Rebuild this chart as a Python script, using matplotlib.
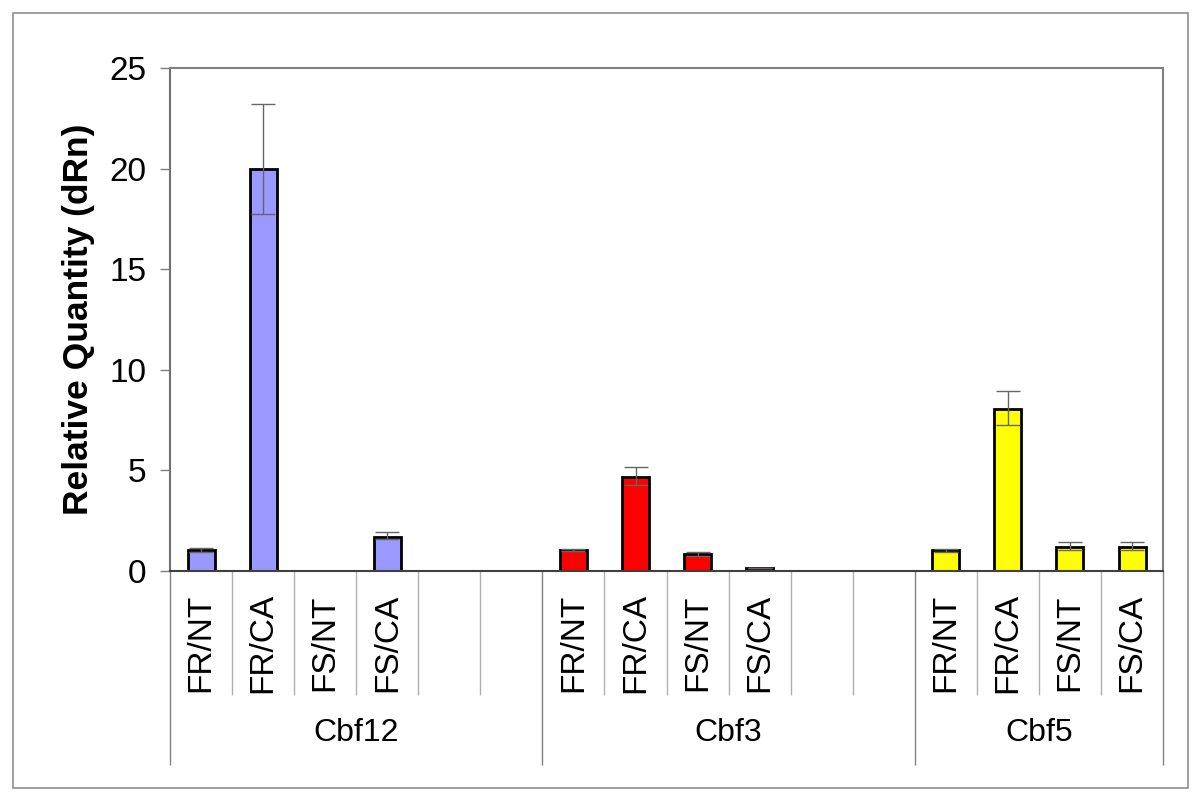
import numpy as np
import matplotlib.pyplot as plt
from matplotlib.patches import Rectangle

plt.rcParams['font.family'] = ['Liberation Sans', 'DejaVu Sans']

# Dados
genes = ['Cbf12', 'Cbf3', 'Cbf5']
tratamentos = ['FR/NT', 'FR/CA', 'FS/NT', 'FS/CA']
slots_por_gene = [6, 6, 4]
cores = ['#9999FF', '#FF0000', '#FFFF00']

valores_cbf12 = [1.05, 20.0, np.nan, 1.70]
valores_cbf3 = [1.05, 4.68, 0.83, 0.15]
valores_cbf5 = [1.05, 8.05, 1.20, 1.20]

erro_sup_cbf12 = [0.11, 3.2, np.nan, 0.25]
erro_sup_cbf3 = [0.04, 0.50, 0.10, 0.02]
erro_sup_cbf5 = [0.05, 0.90, 0.23, 0.23]

erro_inf_cbf12 = [0.10, 2.25, np.nan, 0.13]
erro_inf_cbf3 = [0.04, 0.40, 0.08, 0.02]
erro_inf_cbf5 = [0.12, 0.78, 0.16, 0.16]

valores = [valores_cbf12, valores_cbf3, valores_cbf5]
erros_sup = [erro_sup_cbf12, erro_sup_cbf3, erro_sup_cbf5]
erros_inf = [erro_inf_cbf12, erro_inf_cbf3, erro_inf_cbf5]

fig = plt.figure(figsize=(12, 8), dpi=100)
ax = fig.add_axes([0.1417, 0.28625, 0.8275, 0.62875])

# Moldura externa
fig.patches.append(Rectangle((13 / 1200, 12 / 800), 1175 / 1200, 775 / 800,
                             transform=fig.transFigure, fill=False,
                             edgecolor='#909090', lw=1.2))

inicio = 0
limites = [0]
for gene, n, cor, vals, es, ei in zip(genes, slots_por_gene, cores, valores, erros_sup, erros_inf):
    x = inicio + np.arange(len(tratamentos)) + 0.5
    ax.bar(x, vals, width=0.435, color=cor, edgecolor='black', linewidth=2.0, zorder=2)
    ax.errorbar(x, vals, yerr=[ei, es], fmt='none', ecolor='#666666',
                elinewidth=1.0, capsize=8.5, capthick=1.0, zorder=3)
    for xi, t in zip(x, tratamentos):
        ax.text(xi, -0.143, t, transform=ax.get_xaxis_transform(), rotation=90,
                ha='center', va='center', fontsize=24)
    ax.text(inicio + n / 2, -0.322, gene, transform=ax.get_xaxis_transform(),
            ha='center', va='center', fontsize=23)
    inicio += n
    limites.append(inicio)

total = sum(slots_por_gene)
ax.set_xlim(0, total)
ax.set_ylim(0, 25)
ax.set_yticks(np.arange(0, 26, 5))
ax.tick_params(axis='y', labelsize=24, length=7, width=1, color='#808080', pad=10)

# Divisões das categorias no eixo x
ax.set_xticks(limites)
ax.set_xticks([i for i in range(total + 1) if i not in limites], minor=True)
ax.set_xticklabels([])
ax.tick_params(axis='x', which='major', length=140, width=1, color='#808080', direction='out')
ax.tick_params(axis='x', which='minor', length=89, width=1, color='#B0B0B0', direction='out')

for lado in ['top', 'right']:
    ax.spines[lado].set_color('#808080')
    ax.spines[lado].set_linewidth(1.5)
ax.spines['left'].set_color('#707070')
ax.spines['left'].set_linewidth(1.5)
ax.spines['bottom'].set_color('#404040')
ax.spines['bottom'].set_linewidth(1.5)

ax.set_ylabel('Relative Quantity (dRn)', fontsize=25.5, fontweight='bold', labelpad=10)

fig.savefig('out.png', dpi=100)
